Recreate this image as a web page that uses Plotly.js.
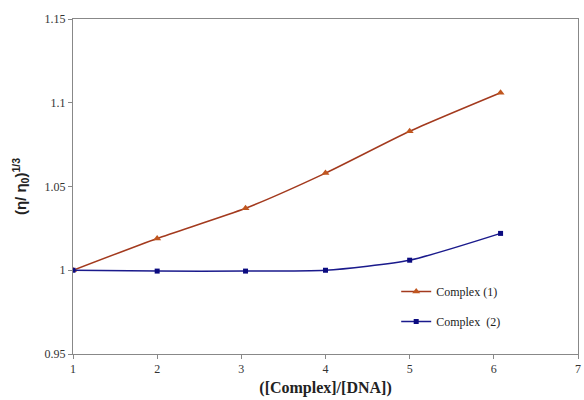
<!DOCTYPE html>
<html>
<head>
<meta charset="utf-8">
<script src="https://cdn.plot.ly/plotly-3.0.1.min.js"></script>
<style>html,body{margin:0;padding:0;background:#fff;}#chart{width:584px;height:400px;}</style>
</head>
<body>
<div id="chart"></div>
<script>
const seriesNames = ["Complex (1)", "Complex  (2)"];
const x1 = [1, 2, 3.05, 4, 5, 6.08];
const y1 = [1.000, 1.019, 1.037, 1.058, 1.083, 1.106];
const x2 = [1, 2, 3.05, 4, 5, 6.08];
const y2 = [1.000, 0.9995, 0.9995, 1.000, 1.006, 1.022];
const xTicks = [1, 2, 3, 4, 5, 6, 7];
const yTicks = [0.95, 1, 1.05, 1.1, 1.15];
const yTickText = ["0.95", "1", "1.05", "1.1", "1.15"];

const traces = [
  {x: x1, y: y1, name: seriesNames[0], mode: "lines+markers", legendgroup: "a",
   line: {color: "#A33A1E", width: 1.5, shape: "spline", smoothing: 0.6},
   marker: {symbol: "triangle-up", size: 7, color: "#C0561F"}},
  {x: x2, y: y2, name: seriesNames[1], mode: "lines+markers", legendgroup: "b",
   line: {color: "#1A1A8C", width: 1.5, shape: "spline", smoothing: 0.6},
   marker: {symbol: "square", size: 5, color: "#0B0B80"}}
];

const tickFont = {family: "Liberation Serif, Times New Roman, serif", size: 12, color: "#333"};
const layout = {
  width: 584, height: 400,
  margin: {l: 73, r: 6, t: 19, b: 46},
  paper_bgcolor: "#fff", plot_bgcolor: "#fff",
  showlegend: true,
  legend: {x: 0.64, y: 0.23, xanchor: "left", yanchor: "top", traceorder: "grouped",
           tracegroupgap: 11, font: {family: "Liberation Serif, Times New Roman, serif", size: 12, color: "#222"},
           bgcolor: "rgba(0,0,0,0)", itemwidth: 30},
  xaxis: {range: [1, 7], tickvals: xTicks, ticks: "outside", ticklen: 4, tickcolor: "#888",
          showline: true, linecolor: "#888", linewidth: 1, mirror: true, showgrid: false, zeroline: false,
          tickfont: tickFont,
          title: {text: "<b>([Complex]/[DNA])</b>", font: {family: "Liberation Serif, Times New Roman, serif", size: 16, color: "#222"}, standoff: 6}},
  yaxis: {range: [0.95, 1.15], tickvals: yTicks, ticktext: yTickText, ticks: "outside", ticklen: 4, tickcolor: "#888",
          showline: true, linecolor: "#888", linewidth: 1, mirror: true, showgrid: false, zeroline: false,
          tickfont: tickFont,
          title: {text: "<b>(η/ η<sub>0</sub>)<sup>1/3</sup></b>", font: {family: "Liberation Sans, Arial, sans-serif", size: 15, color: "#222"}, standoff: 14}}
};
Plotly.newPlot("chart", traces, layout, {displayModeBar: false, staticPlot: true});
</script>
</body>
</html>
